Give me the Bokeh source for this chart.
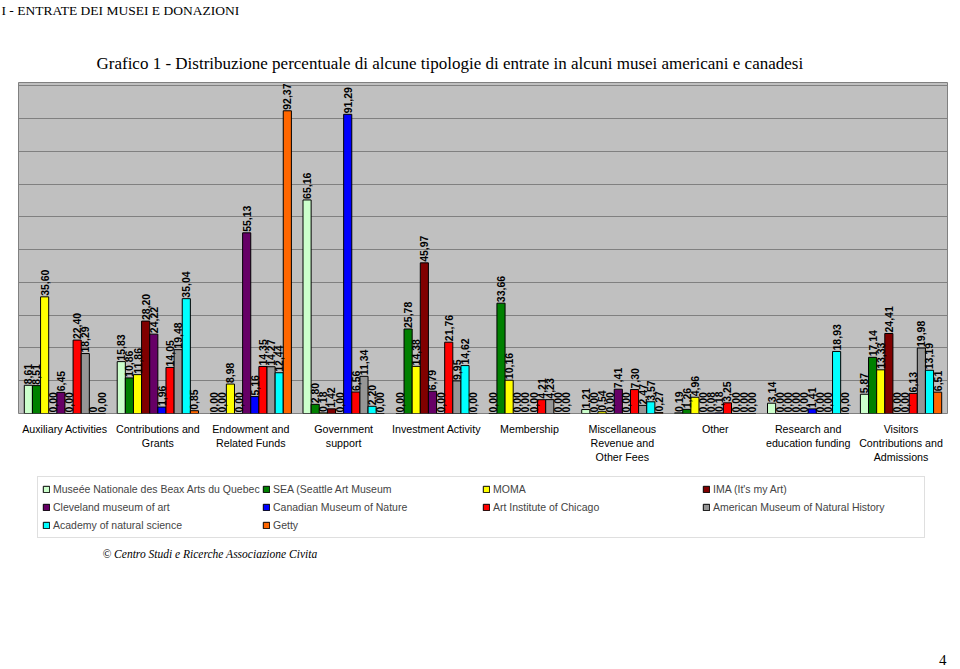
import math
from bokeh.plotting import figure
from bokeh.layouts import column
from bokeh.models import (ColumnDataSource, FactorRange, Range1d, CategoricalAxis,
                          SingleIntervalTicker, Legend, LegendItem, LabelSet, Label, Title)
from bokeh.transform import dodge
from bokeh.core.properties import value
from bokeh.embed import file_html
from bokeh.resources import INLINE

categories = ["Auxiliary Activities", "Contributions and\nGrants", "Endowment and\nRelated Funds",
              "Government\nsupport", "Investment Activity", "Membership",
              "Miscellaneous\nRevenue and\nOther Fees", "Other", "Research and\neducation funding",
              "Visitors\nContributions and\nAdmissions"]

museums = ["Museée Nationale des Beax Arts du Quebec", "SEA (Seattle Art Museum",
           "MOMA", "IMA (It's my Art)", "Cleveland museum of art",
           "Canadian Museum of Nature", "Art Institute of Chicago",
           "American Museum of Natural History", "Academy of natural science", "Getty"]

quebec    = [8.61, 15.83, 0.00, 65.16, 0.00, 0.00, 1.21, 0.19, 3.14, 5.87]
sea       = [8.51, 10.86, 0.00, 2.80, 25.78, 33.66, 0.00, 1.26, 0.00, 17.14]
moma      = [35.60, 11.86, 8.98, 0.18, 14.38, 10.16, 0.54, 4.96, 0.00, 13.33]
ima       = [0.00, 28.20, 0.00, 1.42, 45.97, 0.00, 0.00, 0.00, 0.00, 24.41]
cleveland = [6.45, 24.22, 55.13, 0.00, 6.79, 0.00, 7.41, 0.08, 0.00, 0.00]
canadian  = [0.00, 1.96, 5.16, 91.29, 0.00, 0.00, 0.00, 0.18, 1.41, 0.00]
art_inst  = [22.40, 14.05, 14.35, 6.56, 21.76, 4.21, 7.30, 3.25, 0.00, 6.13]
amnh      = [18.29, 19.48, 14.27, 11.34, 9.95, 4.23, 2.47, 0.00, 0.00, 19.98]
academy   = [0, 35.04, 12.44, 2.20, 14.62, 0.00, 3.57, 0.00, 18.93, 13.19]
getty     = [0.00, 0.85, 92.37, 0.00, 0.00, 0.00, 0.27, 0.00, 0.00, 6.51]

series = [quebec, sea, moma, ima, cleveland, canadian, art_inst, amnh, academy, getty]
colors = ["#CCFFCC", "#008000", "#FFFF00", "#800000", "#660066",
          "#0000FF", "#FF0000", "#969696", "#00FFFF", "#FF6600"]


def fmt(v):
    if isinstance(v, int):
        return str(v)
    return f"{v:.2f}".replace(".", ",")


SANS = "Liberation Sans"
SERIF = "Liberation Serif"

# ---------------- page header strip ----------------
h = figure(width=958, height=40, x_range=Range1d(0, 1), y_range=Range1d(0, 1),
           x_axis_location=None, y_axis_location=None,
           output_backend="svg", toolbar_location=None,
           min_border_left=0, min_border_right=0, min_border_top=0, min_border_bottom=0,
           background_fill_color="white", border_fill_color="white",
           outline_line_color=None)
h.grid.visible = False
h.add_layout(Title(text="I - ENTRATE DEI MUSEI E DONAZIONI", align="left", offset=-17,
                   standoff=0, text_font=SERIF, text_font_size="13.5px",
                   text_font_style="normal", text_color="black"), "above")

# ---------------- main chart ----------------
x_range = FactorRange(factors=categories, range_padding=0)
y_range = Range1d(0, 101)

p = figure(width=958, height=430, x_range=x_range, y_range=y_range,
           x_axis_location=None, y_axis_location=None,
           output_backend="svg", toolbar_location=None,
           min_border_left=18, min_border_right=11, min_border_top=42, min_border_bottom=57,
           background_fill_color="#C0C0C0", border_fill_color="white",
           outline_line_color="#808080")

p.xgrid.visible = False
p.ygrid.ticker = SingleIntervalTicker(interval=10)
p.ygrid.grid_line_color = "#808080"
p.ygrid.grid_line_width = 1

cat_axis = CategoricalAxis(major_tick_line_color=None, major_tick_out=0, major_tick_in=0,
                           axis_line_color=None, major_label_standoff=9,
                           major_label_text_font=SANS, major_label_text_font_size="10.7px",
                           major_label_text_color="black")
p.add_layout(cat_axis, "below")

p.add_layout(Title(text="Grafico 1 - Distribuzione percentuale di alcune tipologie di entrate in alcuni musei americani e canadesi",
                   align="left", offset=78, standoff=20, text_font=SERIF,
                   text_font_size="17px", text_font_style="normal", text_color="black"),
             "above")

# ---------------- legend & footer strip ----------------
q = figure(width=958, height=197, x_range=x_range, y_range=y_range,
           x_axis_location=None, y_axis_location=None,
           output_backend="svg", toolbar_location=None,
           min_border_left=0, min_border_right=0, min_border_top=0, min_border_bottom=0,
           background_fill_color="white", border_fill_color="white",
           outline_line_color=None)
q.grid.visible = False

n = len(series)
bw = 0.0875
items = []
for i, (vals, col, name) in enumerate(zip(series, colors, museums)):
    off = (i - (n - 1) / 2) * bw
    src = ColumnDataSource(dict(cat=categories, val=[float(v) for v in vals],
                                lbl=[fmt(v) for v in vals]))
    p.vbar(x=dodge("cat", off, range=x_range), top="val", width=bw, source=src,
           fill_color=col, line_color="black", line_width=1)
    ls = LabelSet(x=dodge("cat", off, range=x_range), y="val", text="lbl", source=src,
                  angle=math.pi / 2, text_align="left", text_baseline="middle",
                  y_offset=1, text_font=value(SANS), text_font_style="bold",
                  text_font_size=value("10.5px"), text_color="black")
    p.add_layout(ls)
    # same series, hidden, so that the legend strip can show its swatch
    r = q.vbar(x=dodge("cat", off, range=x_range), top="val", width=bw, source=src,
               fill_color=col, line_color="black", line_width=1, visible=False)
    items.append(LegendItem(label=name, renderers=[r]))

legend = Legend(items=items, location=(19, 129), orientation="horizontal", ncols=4,
                border_line_color="#BFBFBF", background_fill_color="white",
                background_fill_alpha=1, padding=4, spacing=2, label_standoff=3,
                glyph_width=8, glyph_height=8, label_height=16, label_width=207,
                margin=0, label_text_font=SANS, label_text_font_size="10.5px",
                click_policy="none")
q.add_layout(legend)

q.add_layout(Label(x=84, y=114, x_units="screen", y_units="screen",
                   text="© Centro Studi e Ricerche Associazione Civita",
                   text_font=SERIF, text_font_size="11.5px", text_font_style="italic",
                   text_align="left", text_baseline="middle", text_color="black"))
q.add_layout(Label(x=928, y=8, x_units="screen", y_units="screen",
                   text="4", text_font=SERIF, text_font_size="15px",
                   text_align="right", text_baseline="middle", text_color="black"))

layout = column(h, p, q, spacing=0)
open("out.html", "w").write(file_html(layout, INLINE))
